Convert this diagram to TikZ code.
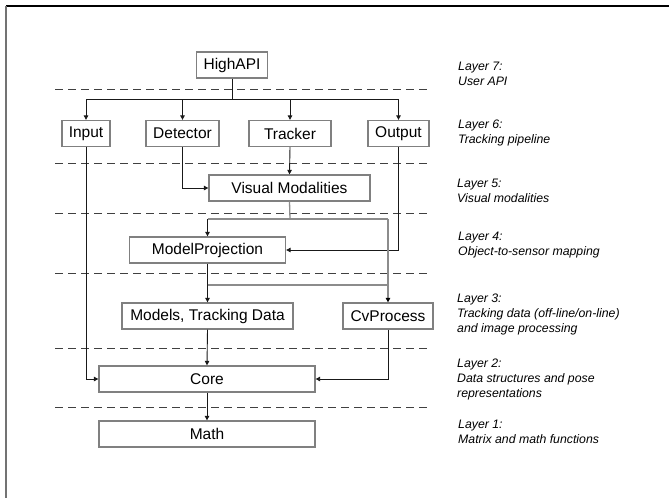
\documentclass[tikz,border=0pt]{standalone}
\usepackage{fontspec}
\setmainfont{Liberation Sans}
\usetikzlibrary{arrows.meta}
\begin{document}
\begin{tikzpicture}[x=1pt,y=-1pt,
  module/.style={draw=black!50, line width=1.3pt, minimum height=26pt, inner sep=0pt,
    font=\fontsize{15.5}{18}\selectfont},
  link/.style={draw=black!90, line width=0.9pt},
  arrowlink/.style={link, -{Triangle[length=4.5pt,width=4.5pt]}},
  greylink/.style={draw=black!45, line width=1.3pt},
  greyarrow/.style={greylink, -{Triangle[length=4.5pt,width=4.5pt,fill=black,color=black]}},
  layersep/.style={draw=black!75, line width=1pt, dash pattern=on 8pt off 5pt},
  layerlabel/.style={anchor=base west, align=left, inner sep=0pt,
    font=\fontsize{12.3}{15}\selectfont\itshape}]

\useasboundingbox (0,0) rectangle (669,498);

% page frame (top and left edges)
\draw[black, line width=1.1pt] (6,6) -- (669,6);
\draw[black!55, line width=1.6pt] (6,6) -- (6,498);

% layer separators
\foreach \yy in {89,163,213,273,348,407}
  \draw[layersep] (55,\yy) -- (431,\yy);

% modules
\node[module, minimum width=71pt]  (highapi)  at (232,65)    {HighAPI};
\node[module, minimum width=48pt]  (input)    at (86,133.5)  {Input};
\node[module, minimum width=73pt]  (detector) at (182.5,133.5) {Detector};
\node[module, minimum width=82pt]  (tracker)  at (290,133.5) {Tracker};
\node[module, minimum width=61pt]  (output)   at (398.5,133.5) {Output};
\node[module, minimum width=161pt] (visual)   at (289.5,188) {Visual Modalities};
\node[module, minimum width=156pt] (modelproj) at (207.5,250) {ModelProjection};
\node[module, minimum width=171pt] (models)   at (207.5,316) {Models, Tracking Data};
\node[module, minimum width=90pt]  (cvproc)   at (388,316)   {CvProcess};
\node[module, minimum width=216pt] (core)     at (207,379)   {Core};
\node[module, minimum width=216pt] (math)     at (207,434)   {Math};

% junction points
\coordinate (bus) at (232,99.5);
\coordinate (vissplit) at (290,219);
\coordinate (mpsplit) at (207.5,285);

% Layer 7 -> Layer 6
\draw[link] (highapi.south) -- (bus);
\draw[link] (input.north |- bus) -- (output.north |- bus);
\foreach \m in {input,detector,tracker,output}
  \draw[arrowlink] (\m.north |- bus) -- (\m.north);

% Layer 6 -> Layer 5 / 4
\draw[arrowlink] (detector.south) |- (visual.west);
\draw[arrowlink] (tracker.south) -- (visual.north);
\draw[arrowlink] (output.south) |- (modelproj.east);

% Visual Modalities -> ModelProjection, CvProcess
\draw[greylink] (visual.south) -- (vissplit);
\draw[greylink] (modelproj.north |- vissplit) -- (cvproc.north |- vissplit);
\draw[arrowlink] (modelproj.north |- vissplit) -- (modelproj.north);
\draw[greyarrow] (cvproc.north |- vissplit) -- (cvproc.north);

% ModelProjection -> Models, CvProcess
\draw[link] (modelproj.south) -- (mpsplit);
\draw[greylink] (mpsplit) -- (cvproc.north |- mpsplit);
\draw[arrowlink] (mpsplit) -- (models.north);

% Layer 3 -> Core -> Math
\draw[arrowlink] (models.south) -- (core.north);
\draw[arrowlink] (input.south) |- (core.west);
\draw[arrowlink] (cvproc.south) |- (core.east);
\draw[arrowlink] (core.south) -- (math.north);

% layer descriptions (anchored at the baseline of the last line)
\node[layerlabel] (l7) at (458,85)  {Layer 7:\\User API};
\node[layerlabel] (l6) at (458,143) {Layer 6:\\Tracking pipeline};
\node[layerlabel] (l5) at (457,202) {Layer 5:\\Visual modalities};
\node[layerlabel] (l4) at (458,255) {Layer 4:\\Object-to-sensor mapping};
\node[layerlabel] (l3) at (457,332) {Layer 3:\\Tracking data (off-line/on-line)\\and image processing};
\node[layerlabel] (l2) at (457,397) {Layer 2:\\Data structures and pose\\representations};
\node[layerlabel] (l1) at (458,443) {Layer 1:\\Matrix and math functions};
\end{tikzpicture}
\end{document}
